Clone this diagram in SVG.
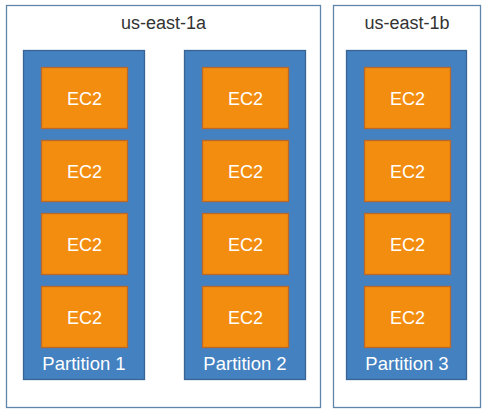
<svg xmlns="http://www.w3.org/2000/svg" width="493" height="420" viewBox="0 0 493 420">
<style>
.az{fill:#ffffff;stroke:#5f86a8;stroke-width:1.3}
.az-t{font-family:"Liberation Sans",Arial,sans-serif;font-size:18px;fill:#333333;text-anchor:middle}
.part{fill:#4381c1;stroke:#3a6592;stroke-width:1.3}
.part-t{font-family:"Liberation Sans",Arial,sans-serif;font-size:18.5px;fill:#ffffff;text-anchor:middle}
.ec2{fill:#f38d10;stroke:#b8682a;stroke-width:1.3}
.ec2-t{font-family:"Liberation Sans",Arial,sans-serif;font-size:18px;fill:#ffffff;text-anchor:middle}
</style>
<rect width="493" height="420" fill="#ffffff"/>
<g id="az-us-east-1a">
<rect class="az" x="6.5" y="5.5" width="314" height="402"/>
<text class="az-t" x="163.5" y="29">us-east-1a</text>
</g>
<g id="az-us-east-1b">
<rect class="az" x="333.5" y="5.5" width="147" height="402"/>
<text class="az-t" x="407" y="29">us-east-1b</text>
</g>
<g id="partition-1">
<rect class="part" x="23.5" y="50.5" width="121" height="329"/>
<text class="part-t" x="84" y="370">Partition 1</text>
</g>
<g id="partition-2">
<rect class="part" x="184.5" y="50.5" width="121" height="329"/>
<text class="part-t" x="245" y="370">Partition 2</text>
</g>
<g id="partition-3">
<rect class="part" x="346.5" y="50.5" width="120" height="329"/>
<text class="part-t" x="407" y="370">Partition 3</text>
</g>
<g id="p1-ec2-1"><rect class="ec2" x="41.5" y="67.5" width="86" height="61"/><text class="ec2-t" x="84.5" y="105">EC2</text></g>
<g id="p1-ec2-2"><rect class="ec2" x="41.5" y="140.5" width="86" height="61"/><text class="ec2-t" x="84.5" y="178">EC2</text></g>
<g id="p1-ec2-3"><rect class="ec2" x="41.5" y="213.5" width="86" height="61"/><text class="ec2-t" x="84.5" y="251">EC2</text></g>
<g id="p1-ec2-4"><rect class="ec2" x="41.5" y="286.5" width="86" height="61"/><text class="ec2-t" x="84.5" y="324">EC2</text></g>
<g id="p2-ec2-1"><rect class="ec2" x="202.5" y="67.5" width="86" height="61"/><text class="ec2-t" x="245.5" y="105">EC2</text></g>
<g id="p2-ec2-2"><rect class="ec2" x="202.5" y="140.5" width="86" height="61"/><text class="ec2-t" x="245.5" y="178">EC2</text></g>
<g id="p2-ec2-3"><rect class="ec2" x="202.5" y="213.5" width="86" height="61"/><text class="ec2-t" x="245.5" y="251">EC2</text></g>
<g id="p2-ec2-4"><rect class="ec2" x="202.5" y="286.5" width="86" height="61"/><text class="ec2-t" x="245.5" y="324">EC2</text></g>
<g id="p3-ec2-1"><rect class="ec2" x="364.5" y="67.5" width="86" height="61"/><text class="ec2-t" x="407.5" y="105">EC2</text></g>
<g id="p3-ec2-2"><rect class="ec2" x="364.5" y="140.5" width="86" height="61"/><text class="ec2-t" x="407.5" y="178">EC2</text></g>
<g id="p3-ec2-3"><rect class="ec2" x="364.5" y="213.5" width="86" height="61"/><text class="ec2-t" x="407.5" y="251">EC2</text></g>
<g id="p3-ec2-4"><rect class="ec2" x="364.5" y="286.5" width="86" height="61"/><text class="ec2-t" x="407.5" y="324">EC2</text></g>
<g id="connectors"></g>
</svg>
